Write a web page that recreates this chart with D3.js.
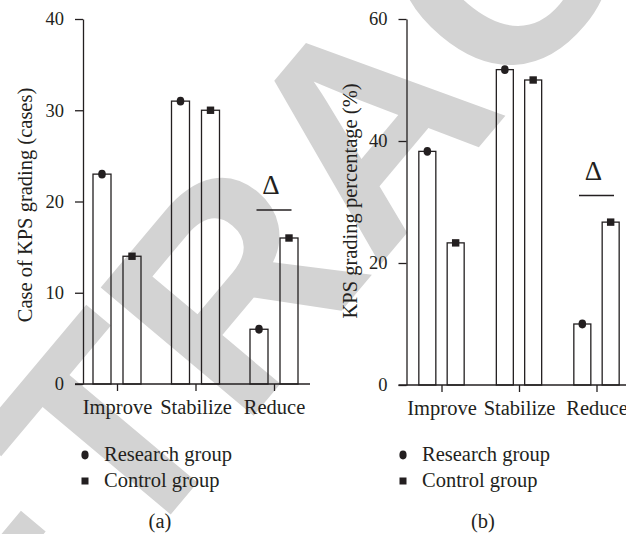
<!DOCTYPE html>
<html>
<head>
<meta charset="utf-8">
<script src="https://cdn.jsdelivr.net/npm/d3@7"></script>
<style>
  html, body { margin: 0; padding: 0; background: #fff; }
  svg { display: block; }
  text { font-family: "Liberation Serif", "DejaVu Serif", serif; fill: #231f20; }
</style>
</head>
<body>
<svg id="chart" width="626" height="534"></svg>
<script>
// KPS grading outcome per group
const categories = ["Improve", "Stabilize", "Reduce"];
const groups = ["Research group", "Control group"];
const casesResearch = [23, 31, 6];
const casesControl = [14, 30, 16];
const pctResearch = [38.3, 51.7, 10.0];
const pctControl = [23.3, 50.0, 26.7];
const casesTicks = [0, 10, 20, 30, 40];
const pctTicks = [0, 20, 40, 60];
const panelLabels = ["(a)", "(b)"];
const yTitles = ["Case of KPS grading (cases)", "KPS grading percentage (%)"];
const watermark = "RETRACTED";

const svg = d3.select("#chart");
const ink = "#231f20";

// faint diagonal stamp behind the plots
svg.append("text")
  .attr("x", 0).attr("y", 0)
  .attr("transform", "translate(443,190) rotate(-50)")
  .attr("text-anchor", "middle")
  .style("font-family", "'Liberation Sans', Arial, sans-serif")
  .style("font-weight", "bold")
  .style("font-size", "290px")
  .style("fill", "#d3d3d3")
  .text(watermark);

const panels = [
  { research: casesResearch, control: casesControl, ticks: casesTicks, ymax: 40,
    axisX: 83, top: 19, bottom: 384, xEnd: 310, cat: [117, 274], barW: 18,
    title: yTitles[0], titleX: 31.5, titleY: 205, label: panelLabels[0], labelX: 160,
    legendX: 85, sig: 2, sigY: 210, sigHalf: 17.5 },
  { research: pctResearch, control: pctControl, ticks: pctTicks, ymax: 60,
    axisX: 406.5, top: 19, bottom: 385, xEnd: 640, cat: [441.5, 596.5], barW: 17,
    title: yTitles[1], titleX: 356.5, titleY: 201, label: panelLabels[1], labelX: 483,
    legendX: 403, sig: 2, sigY: 195.5, sigHalf: 17.5 }
];

panels.forEach(p => {
  const g = svg.append("g");
  const y = d3.scaleLinear().domain([0, p.ymax]).range([p.bottom, p.top]);
  const x = d3.scalePoint().domain(categories).range(p.cat);
  const half = (p.barW / 0.6 * 1.6) / 2;
  const inner = d3.scaleBand().domain(groups)
    .range([-half, half])
    .paddingInner(0.4).paddingOuter(0);

  // y axis
  const ya = g.append("g")
    .attr("transform", `translate(${p.axisX},0)`)
    .call(d3.axisLeft(y).tickValues(p.ticks).tickSize(8).tickSizeOuter(0).tickPadding(11));
  ya.selectAll("path, line").attr("stroke", ink).attr("stroke-width", 1.3);
  ya.selectAll("text").style("font-size", "18.5px").style("font-family", "'Liberation Serif', serif").attr("fill", ink);

  // x axis
  const xa = g.append("g")
    .attr("transform", `translate(0,${p.bottom})`)
    .call(d3.axisBottom(x).tickSize(7).tickSizeOuter(0).tickPadding(8));
  xa.select("path").remove();
  xa.selectAll("line").attr("stroke", ink).attr("stroke-width", 1.3);
  xa.selectAll("text").style("font-size", "20.5px").style("font-family", "'Liberation Serif', serif").attr("fill", ink);
  g.append("line")
    .attr("x1", p.axisX - 8).attr("x2", p.xEnd)
    .attr("y1", p.bottom).attr("y2", p.bottom)
    .attr("stroke", ink).attr("stroke-width", 1.3);

  // bars
  const rows = categories.flatMap((c, i) => [
    { c, grp: groups[0], v: p.research[i] },
    { c, grp: groups[1], v: p.control[i] }
  ]);
  g.selectAll("rect.bar").data(rows).join("rect")
    .attr("class", "bar")
    .attr("x", d => x(d.c) + inner(d.grp))
    .attr("width", inner.bandwidth())
    .attr("y", d => y(d.v))
    .attr("height", d => y(0) - y(d.v))
    .attr("fill", "none")
    .attr("stroke", ink).attr("stroke-width", 1.3);

  // point markers on top of each bar
  rows.forEach(d => {
    const cx = x(d.c) + inner(d.grp) + inner.bandwidth() / 2;
    const cy = y(d.v);
    if (d.grp === groups[0]) {
      g.append("ellipse").attr("cx", cx).attr("cy", cy).attr("rx", 3.8).attr("ry", 4.4).attr("fill", ink);
    } else {
      g.append("rect").attr("x", cx - 3.7).attr("y", cy - 3.7).attr("width", 7.4).attr("height", 7.4).attr("fill", ink);
    }
  });

  // significance mark over the Reduce pair
  const sc = x(categories[p.sig]);
  g.append("line")
    .attr("x1", sc - p.sigHalf).attr("x2", sc + p.sigHalf)
    .attr("y1", p.sigY).attr("y2", p.sigY)
    .attr("stroke", ink).attr("stroke-width", 1.3);
  g.append("text")
    .attr("x", sc - 3).attr("y", p.sigY - 16)
    .attr("text-anchor", "middle")
    .style("font-size", "27px")
    .text("Δ");

  // y title
  g.append("text")
    .attr("transform", `translate(${p.titleX},${p.titleY}) rotate(-90)`)
    .attr("text-anchor", "middle")
    .style("font-size", "20.5px")
    .text(p.title);

  // legend
  const lg = g.append("g");
  lg.append("ellipse").attr("cx", p.legendX).attr("cy", 455).attr("rx", 3.6).attr("ry", 4.4).attr("fill", ink);
  lg.append("rect").attr("x", p.legendX - 3.5).attr("y", 477.5).attr("width", 7).attr("height", 7).attr("fill", ink);
  lg.append("text").attr("x", p.legendX + 19).attr("y", 461).style("font-size", "20.5px").text(groups[0]);
  lg.append("text").attr("x", p.legendX + 19).attr("y", 487).style("font-size", "20.5px").text(groups[1]);

  // panel letter
  g.append("text").attr("x", p.labelX).attr("y", 528)
    .attr("text-anchor", "middle").style("font-size", "20.5px").text(p.label);
});
</script>
</body>
</html>
